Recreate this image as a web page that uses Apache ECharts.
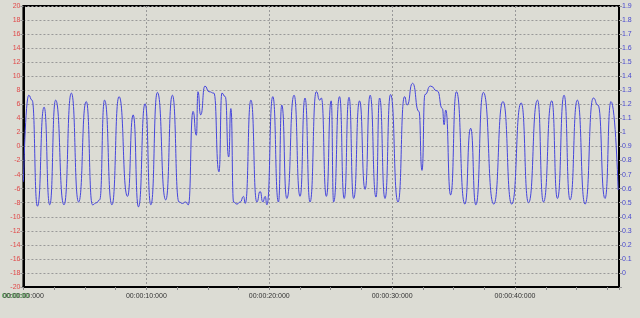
<!DOCTYPE html>
<html><head><meta charset="utf-8">
<script src="https://cdn.jsdelivr.net/npm/echarts@6/dist/echarts.min.js"></script>
<style>html,body{margin:0;padding:0;background:#dcdcd4;}#c{width:640px;height:318px;}</style>
</head><body><div id="c"></div>
<script>
const times = [0, 0.43, 0.70, 1.14, 1.68, 2.14, 2.62, 3.30, 3.90, 4.49,
  5.11, 5.62, 5.95, 6.20, 6.60, 7.20, 7.78, 8.47, 8.93, 9.36,
  9.90, 10.37, 10.90, 11.58, 12.12, 12.66, 12.93, 13.20, 13.42, 13.80,
  14.07, 14.20, 14.42, 14.77, 15.10, 15.50, 15.91, 16.15, 16.42, 16.70,
  16.88, 17.10, 17.37, 17.64, 17.91, 18.05, 18.51, 18.99, 19.26, 19.48,
  19.67, 19.81, 20.29, 20.75, 21.02, 21.43, 22.02, 22.51, 22.91, 23.32,
  23.83, 24.11, 24.24, 24.65, 25.04, 25.24, 25.72, 26.10, 26.49, 26.87,
  27.35, 27.80, 28.21, 28.69, 28.98, 29.42, 29.87, 30.48, 31.01, 31.22,
  31.66, 32.18, 32.43, 32.67, 33.12, 33.68, 34.09, 34.23, 34.36, 34.76,
  35.23, 35.92, 36.39, 36.81, 37.42, 38.27, 39.02, 39.73, 40.50, 41.10,
  41.83, 42.31, 42.99, 43.45, 43.99, 44.48, 45.07, 45.70, 46.37, 46.75,
  47.32, 47.81, 48.39];
const values = [-5.0, 7.3, 6.6, -8.5, 5.6, -8.3, 6.6, -8.3, 7.6, -7.9,
  6.4, -8.3, -8.0, -7.6, 6.6, -8.3, 7.1, -7.1, 4.5, -8.6,
  6.1, -8.3, 7.7, -7.6, 7.3, -7.9, -8.1, -7.9, -8.3, 5.0,
  1.6, 7.8, 4.5, 8.6, 7.8, 7.6, -3.6, 7.6, 7.1, -1.5,
  5.4, -7.9, -8.2, -7.9, -7.1, -8.1, 6.6, -7.9, -6.4, -7.9,
  -7.1, -8.3, 7.1, -7.9, 5.9, -7.4, 7.3, -7.1, 6.9, -7.9,
  7.8, 6.6, 6.9, -7.1, 6.5, -7.9, 7.1, -7.4, 7.0, -7.4,
  6.5, -6.1, 7.3, -7.2, 6.9, -7.4, 7.4, -7.9, 7.1, 5.9,
  9.0, 5.0, -3.4, 7.4, 8.6, 7.9, 5.4, 3.1, 5.2, -6.9,
  7.8, -8.2, 2.6, -8.3, 7.7, -8.2, 6.4, -8.2, 6.2, -8.0,
  6.6, -7.9, 6.5, -7.4, 7.3, -7.6, 6.6, -8.2, 6.9, 5.9,
  -7.4, 6.4, -6.2];
const leftTicks = {min: -20, max: 20, step: 2};
const rightTicks = {min: -0.1, max: 1.9, step: 0.1};
const timeRange = {min: 0, max: 48.46, step: 10};
const cursorLabel = '00:00:00';

function fmtTime(s) {
  const p = n => String(n).padStart(2, '0');
  return '00:00:' + p(Math.round(s)) + ':000';
}
const chart = echarts.init(document.getElementById('c'), null, {renderer: 'canvas'});
const font = 'Liberation Sans';
chart.setOption({
  animation: false,
  backgroundColor: '#dcdcd4',
  grid: {left: 22, right: 21, top: 6, bottom: 31, show: true, backgroundColor: '#dcdcd4', borderColor: '#000', borderWidth: 2},
  xAxis: {
    type: 'value', min: timeRange.min, max: timeRange.max, interval: timeRange.step,
    axisLine: {onZero: false, lineStyle: {color: '#000', width: 2}},
    axisTick: {show: true, length: 3, lineStyle: {color: '#888'}},
    minorTick: {show: true, splitNumber: 4, length: 3, lineStyle: {color: '#888'}},
    axisLabel: {color: '#333', fontFamily: font, fontSize: 7, margin: 6, formatter: v => fmtTime(v), showMaxLabel: false},
    splitLine: {show: true, lineStyle: {color: '#999', type: [2, 2], width: 1}}
  },
  yAxis: [{
    type: 'value', min: leftTicks.min, max: leftTicks.max, interval: leftTicks.step,
    axisLine: {show: true, onZero: false, lineStyle: {color: '#000', width: 2}},
    axisTick: {show: true, length: 3, lineStyle: {color: '#999'}},
    axisLabel: {color: '#e04848', fontFamily: font, fontSize: 7, margin: 3},
    splitLine: {show: true, lineStyle: {color: '#999', type: [2, 2], width: 1}}
  }, {
    type: 'value', position: 'right', min: rightTicks.min, max: rightTicks.max, interval: rightTicks.step,
    axisLine: {show: true, onZero: false, lineStyle: {color: '#000', width: 2}},
    axisTick: {show: true, length: 3, lineStyle: {color: '#999'}},
    axisLabel: {color: '#4848d0', fontFamily: font, fontSize: 7, margin: 3,
      formatter: v => v < -0.05 ? '' : String(Math.round(v * 10) / 10)},
    splitLine: {show: false}
  }],
  graphic: [{
    type: 'text', left: 2, top: 293,
    style: {text: cursorLabel, fill: '#2f9a2f', font: '7px "Liberation Sans"'}
  }],
  series: [{
    type: 'line', yAxisIndex: 0, showSymbol: false, smooth: 0.6, smoothMonotone: 'x',
    lineStyle: {color: '#4646dc', width: 1},
    data: times.map((t, i) => [t, values[i]])
  }]
});
</script></body></html>
